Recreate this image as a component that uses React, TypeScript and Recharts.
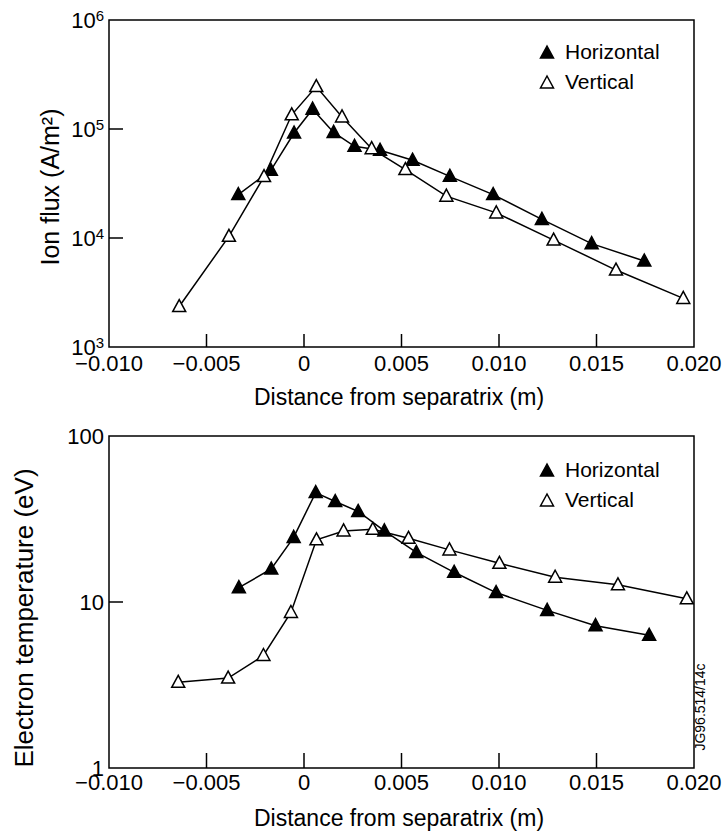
import { LineChart, Line, XAxis, YAxis, ReferenceArea } from 'recharts'

// ion flux (A/m2), horizontal probe
const fluxHorizX = [-0.00337, -0.0017, -0.00051, 0.00044, 0.00152, 0.00259, 0.0039, 0.00557, 0.00748, 0.0097, 0.0122, 0.01475, 0.01745]
const fluxHorizY = [25000, 41800, 91900, 152000, 93000, 69300, 63700, 51700, 36800, 25000, 14800, 8870, 6150]
// ion flux, vertical probe
const fluxVertX = [-0.0064, -0.00385, -0.00205, -0.00063, 0.00063, 0.00195, 0.00347, 0.0052, 0.0073, 0.00986, 0.0128, 0.016, 0.01945]
const fluxVertY = [2350, 10350, 36600, 135000, 245000, 129000, 66000, 42400, 24200, 17000, 9570, 5080, 2790]

// electron temperature (eV)
const tempHorizX = [-0.00334, -0.00168, -0.00053, 0.0006, 0.0016, 0.00278, 0.00412, 0.00576, 0.0077, 0.00985, 0.01247, 0.01495, 0.0177]
const tempHorizY = [12.2, 15.8, 24.5, 45.6, 40.3, 35.1, 26.8, 19.9, 15.1, 11.4, 8.9, 7.2, 6.3]
const tempVertX = [-0.00645, -0.00389, -0.00208, -0.00067, 0.00064, 0.00203, 0.00353, 0.00536, 0.00746, 0.01002, 0.01288, 0.0161, 0.01963]
const tempVertY = [3.28, 3.48, 4.76, 8.65, 23.7, 26.8, 27.4, 24.2, 20.6, 17.1, 14.1, 12.7, 10.45]

const xTicks = [-0.01, -0.005, 0, 0.005, 0.01, 0.015, 0.02]
const fluxTicks = [1e3, 1e4, 1e5, 1e6]
const tempTicks = [1, 10, 100]

const FONT = '"Liberation Sans", Arial, sans-serif'
const X_AXIS_H = 30

const zip = (xs: number[], ys: number[]) => xs.map((x, i) => ({ x, y: ys[i] }))

const fluxHoriz = zip(fluxHorizX, fluxHorizY)
const fluxVert = zip(fluxVertX, fluxVertY)
const tempHoriz = zip(tempHorizX, tempHorizY)
const tempVert = zip(tempVertX, tempVertY)

const fmtX = (v: number) => (v === 0 ? '0' : (v < 0 ? '\u2212' : '') + Math.abs(v).toFixed(3))

function Tri({ cx, cy, filled }: { cx: number; cy: number; filled: boolean }) {
  return (
    <polygon
      points={`${cx},${cy - 7} ${cx - 6.5},${cy + 5} ${cx + 6.5},${cy + 5}`}
      fill={filled ? '#000' : '#fff'}
      stroke="#000"
      strokeWidth={1.5}
    />
  )
}

function XTick(props: any) {
  const { x, y, payload, tickLen, labelDy } = props
  const v = payload.value
  const edge = v === -0.01 || v === 0.02
  return (
    <g>
      {!edge && <line x1={x} x2={x} y1={y} y2={y - tickLen} stroke="#000" strokeWidth={1.5} />}
      <text x={x} y={y + labelDy} textAnchor="middle" fontSize={22} fontFamily={FONT} fill="#000">
        {fmtX(v)}
      </text>
    </g>
  )
}

function LogYTick(props: any) {
  const { x, y, payload, power, lo, hi } = props
  const v = payload.value
  const exp = Math.round(Math.log10(v))
  const edge = v === lo || v === hi
  return (
    <g>
      {!edge && <line x1={x + 5} x2={x + 19} y1={y} y2={y} stroke="#000" strokeWidth={1.5} />}
      {power ? (
        <text x={x} y={y + 8} textAnchor="end" fontSize={22} fontFamily={FONT} fill="#000">
          10
          <tspan dy={-7} fontSize={15}>{exp}</tspan>
        </text>
      ) : (
        <text x={x} y={y + 8} textAnchor="end" fontSize={22} fontFamily={FONT} fill="#000">
          {v}
        </text>
      )}
    </g>
  )
}

function LegendBox({ top }: { top: number }) {
  const row = (filled: boolean, label: string, dy: number) => (
    <div style={{ position: 'absolute', left: 0, top: dy, display: 'flex', alignItems: 'center', height: 26 }}>
      <svg width={16} height={16}>
        <Tri cx={8} cy={9} filled={filled} />
      </svg>
      <span style={{ marginLeft: 10, fontSize: 21, fontFamily: FONT, color: '#000', lineHeight: '26px' }}>{label}</span>
    </div>
  )
  return (
    <div style={{ position: 'absolute', left: 539, top, width: 150, height: 60 }}>
      {row(true, 'Horizontal', 0)}
      {row(false, 'Vertical', 30)}
    </div>
  )
}

type PanelProps = {
  horiz: { x: number; y: number }[]
  vert: { x: number; y: number }[]
  domain: [number, number]
  ticks: number[]
  power: boolean
  yTitle: string
  yTitleSize: number
  titleX: number
  titleY: number
  height: number
  bottom: number
  tickLen: number
  labelDy: number
  legendTop: number
}

function Panel(p: PanelProps) {
  const axisY = p.height - p.bottom - X_AXIS_H
  return (
    <div style={{ position: 'relative', width: 727, height: p.height }}>
      <LineChart width={727} height={p.height} margin={{ top: 20, right: 33, bottom: p.bottom, left: 49 }}>
        <XAxis
          dataKey="x"
          type="number"
          domain={[-0.01, 0.02]}
          ticks={xTicks}
          allowDataOverflow
          axisLine={false}
          tickLine={false}
          tickSize={0}
          tickMargin={0}
          height={X_AXIS_H}
          tick={(t: any) => <XTick {...t} tickLen={p.tickLen} labelDy={p.labelDy} />}
          label={{
            content: () => (
              <text x={399} y={axisY + 58} textAnchor="middle" fontSize={23} fontFamily={FONT} fill="#000">
                Distance from separatrix (m)
              </text>
            ),
          }}
        />
        <YAxis
          dataKey="y"
          type="number"
          scale="log"
          domain={p.domain}
          ticks={p.ticks}
          allowDataOverflow
          axisLine={false}
          tickLine={false}
          tickSize={0}
          tickMargin={5}
          width={60}
          tick={(t: any) => <LogYTick {...t} power={p.power} lo={p.domain[0]} hi={p.domain[1]} />}
          label={{
            content: () => (
              <text
                x={p.titleX}
                y={p.titleY}
                transform={`rotate(-90 ${p.titleX} ${p.titleY})`}
                textAnchor="middle"
                fontSize={p.yTitleSize}
                fontFamily={FONT}
                fill="#000"
              >
                {p.yTitle}
              </text>
            ),
          }}
        />
        <ReferenceArea x1={-0.01} x2={0.02} y1={p.domain[0]} y2={p.domain[1]} fill="none" stroke="#000" strokeWidth={1.5} />
        <Line
          data={p.horiz}
          dataKey="y"
          stroke="#000"
          strokeWidth={1.5}
          isAnimationActive={false}
          dot={(d: any) => <Tri key={`h${d.index}`} cx={d.cx} cy={d.cy} filled />}
        />
        <Line
          data={p.vert}
          dataKey="y"
          stroke="#000"
          strokeWidth={1.5}
          isAnimationActive={false}
          dot={(d: any) => <Tri key={`v${d.index}`} cx={d.cx} cy={d.cy} filled={false} />}
        />
      </LineChart>
      <LegendBox top={p.legendTop} />
    </div>
  )
}

export default function App() {
  return (
    <div style={{ position: 'absolute', left: 0, top: 0, width: 727, height: 833, background: '#fff' }}>
      <div style={{ position: 'absolute', left: 0, top: 0 }}>
        <Panel
          horiz={fluxHoriz}
          vert={fluxVert}
          domain={[1e3, 1e6]}
          ticks={fluxTicks}
          power
          yTitle="Ion flux (A/m²)"
          yTitleSize={25}
          titleX={59}
          titleY={187}
          height={410}
          bottom={33}
          tickLen={13}
          labelDy={24}
          legendTop={39}
        />
      </div>
      <div style={{ position: 'absolute', left: 0, top: 416 }}>
        <Panel
          horiz={tempHoriz}
          vert={tempVert}
          domain={[1, 100]}
          ticks={tempTicks}
          power={false}
          yTitle="Electron temperature (eV)"
          yTitleSize={26}
          titleX={33}
          titleY={202}
          height={417}
          bottom={35}
          tickLen={15}
          labelDy={22}
          legendTop={41}
        />
      </div>
      <div
        style={{
          position: 'absolute',
          left: 700,
          top: 707,
          transform: 'translate(-50%, -50%) rotate(-90deg)',
          fontSize: 14,
          fontFamily: FONT,
          whiteSpace: 'nowrap',
        }}
      >
        JG96.514/14c
      </div>
    </div>
  )
}
